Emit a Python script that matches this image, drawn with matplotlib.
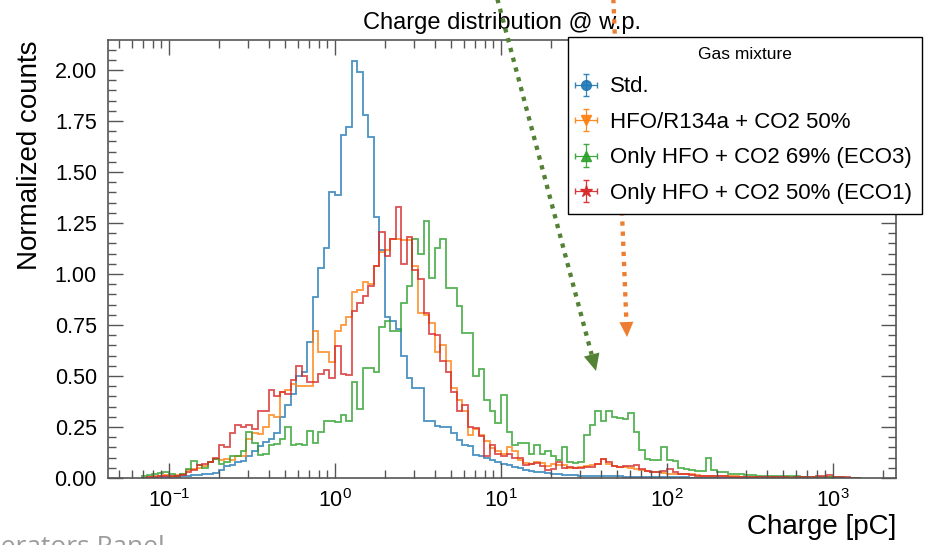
import numpy as np
import matplotlib
matplotlib.use("Agg")
import matplotlib.pyplot as plt
from matplotlib.ticker import LogLocator, MultipleLocator, NullFormatter
from matplotlib.patches import Polygon
from matplotlib.lines import Line2D

plt.rcParams.update({
    "font.family": ["Liberation Sans", "DejaVu Sans"],
    "mathtext.fontset": "custom",
    "mathtext.rm": "Liberation Sans",
    "mathtext.it": "Liberation Sans:italic",
    "mathtext.bf": "Liberation Sans:bold",
})

# log binning, 30 bins per decade, first edge at 10^(-35/30)
BIN_FIRST, BIN_LAST = -35, 95
BINS_PER_DECADE = 30

LABELS = ["Std.", "HFO/R134a + CO2 50%",
          "Only HFO + CO2 69% (ECO3)", "Only HFO + CO2 50% (ECO1)"]
COLORS = ["#1f77b4", "#ff7f0e", "#2ca02c", "#d62728"]
MARKERS = ["o", "v", "^", "*"]

# normalized counts per bin
std = [
    0, 0, 0.002, 0.003, 0.004, 0.005, 0.006, 0.008, 0.010, 0.013,
    0.015, 0.020, 0.020, 0.025, 0.040, 0.060, 0.065, 0.080, 0.085, 0.110,
    0.130, 0.155, 0.175, 0.190, 0.220, 0.300, 0.360, 0.410, 0.500, 0.520,
    0.665, 0.885, 1.030, 1.130, 1.400, 1.385, 1.680, 1.720, 2.045, 1.990,
    1.780, 1.670, 1.280, 1.120, 0.790, 0.770, 0.730, 0.600, 0.490, 0.440,
    0.440, 0.280, 0.280, 0.255, 0.250, 0.250, 0.220, 0.185, 0.160, 0.155,
    0.115, 0.110, 0.100, 0.090, 0.080, 0.070, 0.065, 0.055, 0.050, 0.040,
    0.035, 0.030, 0.028, 0.025, 0.020, 0.018, 0.016, 0.015, 0.014, 0.012,
    0.010, 0.010, 0.010, 0.009, 0.009, 0.008, 0.008, 0.007, 0.007, 0.006,
    0.006, 0.005, 0.005, 0.004, 0.004, 0.004, 0.003, 0.003, 0.003, 0.002,
    0.002, 0.002, 0.002, 0.002, 0.001, 0.001, 0.001, 0.001, 0, 0,
    0, 0, 0, 0, 0, 0, 0, 0, 0, 0,
    0, 0, 0, 0, 0, 0, 0, 0, 0, 0,
]
hfo_r134a = [
    0, 0.005, 0.012, 0.012, 0.015, 0.012, 0.015, 0.020, 0.040, 0.045,
    0.050, 0.060, 0.080, 0.095, 0.090, 0.095, 0.090, 0.110, 0.110, 0.190,
    0.220, 0.215, 0.250, 0.310, 0.300, 0.420, 0.430, 0.460, 0.450, 0.450,
    0.450, 0.720, 0.620, 0.620, 0.570, 0.720, 0.750, 0.790, 0.910, 0.920,
    0.960, 0.950, 1.040, 1.110, 1.120, 1.170, 1.170, 1.165, 1.165, 1.040,
    0.810, 0.800, 0.760, 0.620, 0.650, 0.575, 0.440, 0.380, 0.330, 0.210,
    0.240, 0.210, 0.180, 0.145, 0.130, 0.120, 0.150, 0.130, 0.090, 0.075,
    0.070, 0.080, 0.075, 0.060, 0.070, 0.065, 0.065, 0.050, 0.050, 0.055,
    0.060, 0.065, 0.070, 0.095, 0.070, 0.060, 0.055, 0.055, 0.050, 0.045,
    0.040, 0.035, 0.030, 0.030, 0.025, 0.022, 0.020, 0.020, 0.018, 0.018,
    0.015, 0.012, 0.012, 0.012, 0.010, 0.010, 0.008, 0.008, 0.006, 0.006,
    0.006, 0.005, 0.005, 0.004, 0.004, 0.004, 0.003, 0.003, 0.003, 0.003,
    0.002, 0.002, 0.002, 0.002, 0.003, 0.002, 0.002, 0.002, 0.002, 0,
]
eco3 = [
    0.010, 0.015, 0.020, 0.025, 0.030, 0.020, 0.010, 0.020, 0.045, 0.085,
    0.065, 0.050, 0.080, 0.095, 0.070, 0.080, 0.110, 0.110, 0.130, 0.225,
    0.170, 0.115, 0.120, 0.160, 0.165, 0.190, 0.250, 0.160, 0.165, 0.160,
    0.230, 0.170, 0.226, 0.280, 0.280, 0.275, 0.310, 0.280, 0.470, 0.340,
    0.540, 0.540, 0.520, 0.740, 0.770, 0.720, 0.720, 0.860, 0.940, 1.170,
    1.100, 1.260, 0.980, 1.130, 1.170, 0.930, 0.930, 0.845, 0.710, 0.710,
    0.500, 0.535, 0.380, 0.330, 0.270, 0.405, 0.225, 0.160, 0.170, 0.170,
    0.120, 0.160, 0.120, 0.130, 0.110, 0.090, 0.150, 0.080, 0.075, 0.080,
    0.210, 0.260, 0.330, 0.280, 0.330, 0.300, 0.295, 0.290, 0.320, 0.225,
    0.136, 0.095, 0.090, 0.087, 0.150, 0.090, 0.085, 0.050, 0.045, 0.040,
    0.035, 0.035, 0.100, 0.040, 0.030, 0.030, 0.020, 0.020, 0.020, 0.015,
    0.015, 0.010, 0.010, 0.010, 0.012, 0.010, 0.008, 0.010, 0.008, 0.006,
    0.006, 0.005, 0.005, 0.004, 0.004, 0.003, 0.003, 0.002, 0, 0,
]
eco1 = [
    0, 0.003, 0.005, 0.008, 0.010, 0.010, 0.012, 0.015, 0.030, 0.038,
    0.063, 0.070, 0.080, 0.100, 0.160, 0.150, 0.220, 0.260, 0.250, 0.260,
    0.240, 0.330, 0.330, 0.430, 0.400, 0.420, 0.410, 0.480, 0.550, 0.500,
    0.470, 0.470, 0.510, 0.530, 0.490, 0.645, 0.510, 0.505, 0.820, 0.860,
    0.890, 0.940, 1.040, 1.205, 1.090, 1.170, 1.330, 1.050, 1.180, 1.020,
    0.975, 0.810, 0.705, 0.700, 0.575, 0.520, 0.420, 0.330, 0.356, 0.250,
    0.245, 0.206, 0.110, 0.160, 0.120, 0.110, 0.120, 0.100, 0.100, 0.065,
    0.070, 0.075, 0.060, 0.040, 0.045, 0.080, 0.050, 0.055, 0.050, 0.050,
    0.055, 0.055, 0.070, 0.095, 0.080, 0.060, 0.055, 0.060, 0.060, 0.065,
    0.045, 0.035, 0.030, 0.030, 0.035, 0.045, 0.030, 0.020, 0.020, 0.015,
    0.012, 0.010, 0.010, 0.010, 0.008, 0.008, 0.006, 0.006, 0.006, 0.005,
    0.005, 0.004, 0.004, 0.004, 0.003, 0.003, 0.003, 0.002, 0.003, 0.005,
    0.004, 0.006, 0.012, 0.012, 0.014, 0.006, 0.004, 0.003, 0.002, 0,
]
SERIES = [std, hfo_r134a, eco3, eco1]

W, H = 930, 545
fig = plt.figure(figsize=(W / 100, H / 100), dpi=100)
ax = fig.add_axes([108 / W, 1 - 478 / H, 788 / W, 438 / H])

edges = 10.0 ** (np.arange(BIN_FIRST, BIN_LAST + 1) / BINS_PER_DECADE)
for vals, col in zip(SERIES, COLORS):
    ax.stairs(vals, edges, color=col, lw=1.3, alpha=0.8, baseline=None)

ax.set_xscale("log")
ax.set_xlim(0.0429, 2395)
ax.set_ylim(0, 1.05 * max(std))

ax.xaxis.set_major_locator(LogLocator(base=10))
ax.xaxis.set_minor_locator(LogLocator(base=10, subs=np.arange(2, 10)))
ax.xaxis.set_minor_formatter(NullFormatter())
ax.yaxis.set_major_locator(MultipleLocator(0.25))
ax.yaxis.set_minor_locator(MultipleLocator(0.05))
ax.yaxis.set_major_formatter(lambda v, p: f"{v:.2f}")

ax.tick_params(which="both", direction="in", top=True, right=True,
               color="#555555", width=1.0)
ax.tick_params(which="major", length=11, labelsize=15.5, pad=8)
ax.tick_params(which="minor", length=6)
for sp in ax.spines.values():
    sp.set_color("#555555")
    sp.set_linewidth(1.2)

ax.set_ylabel("Normalized counts", fontsize=20, loc="top")
ax.yaxis.set_label_coords(-0.083, 1.0)
ax.set_xlabel("Charge [pC]", fontsize=20, loc="right")
ax.xaxis.set_label_coords(1.0, -0.083)
ax.set_title("Charge distribution @ w.p.", fontsize=17, pad=8)

# legend entries drawn as error-bar markers
handles = []
for lab, col, mk in zip(LABELS, COLORS, MARKERS):
    h = ax.errorbar([np.nan], [np.nan], yerr=[1], xerr=[1], fmt=mk,
                    color=col, ms=7 if mk != "*" else 9, capsize=2.5,
                    elinewidth=0.9, alpha=0.9, label=lab)
    handles.append(h)
leg = fig.legend(handles, LABELS, title="Gas mixture", loc="upper right",
                 bbox_to_anchor=(922 / W, 1 - 37 / H),
                 bbox_transform=fig.transFigure, fontsize=16,
                 title_fontsize=12.5, frameon=True, fancybox=False,
                 edgecolor="black", framealpha=1, borderaxespad=0,
                 handlelength=0.75, handletextpad=0.7, labelspacing=0.65,
                 borderpad=0.45)
leg.get_frame().set_linewidth(1.0)
leg.set_zorder(10)


def dotted_arrow(x0, y0, x1, y1, color, z, head_len=17, head_w=8):
    """Slide-style dotted arrow, coordinates in picture pixels (top-left)."""
    def to_fig(p):
        return (p[0] / W, 1 - p[1] / H)
    tip = np.array([x1, y1], float)
    d = tip - np.array([x0, y0], float)
    u = d / np.hypot(*d)
    nrm = np.array([-u[1], u[0]])
    base = tip - u * head_len
    xs, ys = zip(to_fig((x0, y0)), to_fig(base))
    fig.add_artist(Line2D(xs, ys, transform=fig.transFigure, color=color,
                          lw=3.1, ls=(0, (1, 1.35)), dash_capstyle="butt",
                          zorder=z))
    pts = [to_fig(tip), to_fig(base + nrm * head_w), to_fig(base - nrm * head_w)]
    fig.add_artist(Polygon(pts, closed=True, transform=fig.transFigure,
                           color=color, lw=0, zorder=z))


dotted_arrow(495, -10, 596, 371, "#538135", 20)
dotted_arrow(613, -10, 627, 337, "#ED7D31", 5, head_len=15, head_w=7)

fig.text(165 / W, 1 - 553.6 / H, "Operators Panel", ha="right",
         va="baseline", fontsize=19, color="#9b9b9b", family="Open Sans")

fig.savefig("out.png", dpi=100)
